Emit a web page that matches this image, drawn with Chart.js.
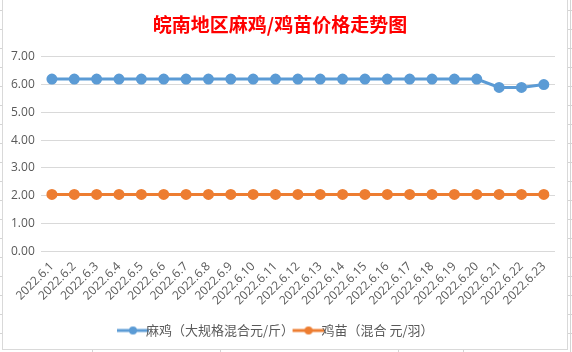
<!DOCTYPE html>
<html>
<head>
<meta charset="utf-8">
<script src="https://cdn.jsdelivr.net/npm/chart.js@4"></script>
<style>
  html, body { margin: 0; padding: 0; }
  body {
    width: 572px; height: 352px; position: relative; overflow: hidden;
    background: #fff repeating-linear-gradient(to bottom, transparent 0, transparent 10px, #d4d4d4 10px, #d4d4d4 11px, transparent 11px, transparent 19px);
  }
  .col { position: absolute; top: 0; width: 1px; height: 352px; background: #d4d4d4; }
  #box {
    position: absolute; left: 2px; top: -1px; width: 564px; height: 349px;
    border: 1px solid #d9d9d9; background: #fff;
  }
</style>
</head>
<body>
<div class="col" style="left:570px"></div>
<div class="col" style="left:92px"></div>
<div class="col" style="left:220px"></div>
<div class="col" style="left:398px"></div>
<div class="col" style="left:463px"></div>
<div id="box"><canvas id="chart"></canvas></div>
<script>
const dates = ['2022.6.1', '2022.6.2', '2022.6.3', '2022.6.4', '2022.6.5', '2022.6.6', '2022.6.7', '2022.6.8',
  '2022.6.9', '2022.6.10', '2022.6.11', '2022.6.12', '2022.6.13', '2022.6.14', '2022.6.15', '2022.6.16',
  '2022.6.17', '2022.6.18', '2022.6.19', '2022.6.20', '2022.6.21', '2022.6.22', '2022.6.23'];
const chickenPrice = [6.2, 6.2, 6.2, 6.2, 6.2, 6.2, 6.2, 6.2, 6.2, 6.2, 6.2, 6.2, 6.2, 6.2, 6.2, 6.2,
  6.2, 6.2, 6.2, 6.2, 5.9, 5.9, 6.0];
const chickPrice = [2.05, 2.05, 2.05, 2.05, 2.05, 2.05, 2.05, 2.05, 2.05, 2.05, 2.05, 2.05, 2.05, 2.05,
  2.05, 2.05, 2.05, 2.05, 2.05, 2.05, 2.05, 2.05, 2.05];
const seriesNames = ['麻鸡（大规格混合元/斤）', '鸡苗（混合 元/羽）'];
const chartTitle = '皖南地区麻鸡/鸡苗价格走势图';

const BLUE = '#5b9bd5';
const ORANGE = '#ed7d31';

const legendIcon = (color) => {
  const c = document.createElement('canvas');
  c.width = 34; c.height = 10;
  const g = c.getContext('2d');
  g.strokeStyle = color;
  g.lineWidth = 3;
  g.beginPath(); g.moveTo(1, 5); g.lineTo(33, 5); g.stroke();
  g.fillStyle = color;
  g.beginPath(); g.arc(17, 5, 4, 0, Math.PI * 2); g.fill();
  return c;
};

const ctx = document.getElementById('chart');
new Chart(ctx, {
  type: 'line',
  data: {
    labels: dates,
    datasets: [
      { label: seriesNames[0], data: chickenPrice, borderColor: BLUE, backgroundColor: BLUE,
        borderWidth: 3, pointRadius: 4, pointHoverRadius: 4, tension: 0 },
      { label: seriesNames[1], data: chickPrice, borderColor: ORANGE, backgroundColor: ORANGE,
        borderWidth: 3, pointRadius: 4, pointHoverRadius: 4, tension: 0 }
    ]
  },
  options: {
    responsive: true,
    maintainAspectRatio: false,
    animation: false,
    layout: { padding: { left: 2, right: 12, top: 9, bottom: 2 } },
    plugins: {
      title: {
        display: true, text: chartTitle, color: '#ff0000',
        font: { family: '"Noto Sans CJK SC"', size: 19, weight: 'bold' },
        padding: { top: 4, bottom: 21 }
      },
      legend: {
        position: 'bottom',
        labels: {
          color: '#595959',
          font: { family: '"Noto Sans CJK SC"', size: 13 },
          usePointStyle: true,
          boxHeight: 10,
          padding: 8,
          generateLabels: (chart) => chart.data.datasets.map((ds, i) => ({
            text: ds.label,
            fontColor: '#595959',
            pointStyle: legendIcon(ds.borderColor),
            strokeStyle: ds.borderColor,
            fillStyle: ds.borderColor,
            lineWidth: 0,
            datasetIndex: i
          }))
        }
      },
      tooltip: { enabled: false }
    },
    scales: {
      x: {
        offset: true,
        grid: { display: false, drawTicks: false },
        border: { display: false },
        ticks: {
          color: '#595959', maxRotation: 45, minRotation: 45, autoSkip: false, padding: 8,
          font: { family: '"Open Sans", "DejaVu Sans"', size: 12 }
        }
      },
      y: {
        min: 0, max: 7,
        grid: { color: '#d9d9d9', drawTicks: false },
        border: { display: false },
        ticks: {
          stepSize: 1, padding: 6, color: '#595959',
          font: { family: '"Open Sans", "DejaVu Sans"', size: 12 },
          callback: (v) => Number(v).toFixed(2)
        }
      }
    }
  }
});
</script>
</body>
</html>
